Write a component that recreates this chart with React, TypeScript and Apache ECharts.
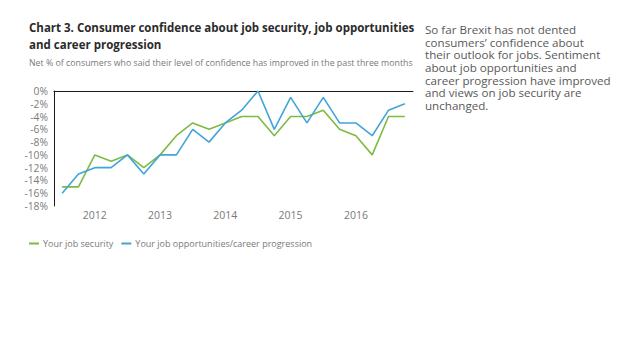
import React, { useEffect, useRef } from "react";
import * as echarts from "echarts";

const quarters = [
  "2011 Q3", "2011 Q4",
  "2012 Q1", "2012 Q2", "2012 Q3", "2012 Q4",
  "2013 Q1", "2013 Q2", "2013 Q3", "2013 Q4",
  "2014 Q1", "2014 Q2", "2014 Q3", "2014 Q4",
  "2015 Q1", "2015 Q2", "2015 Q3", "2015 Q4",
  "2016 Q1", "2016 Q2", "2016 Q3", "2016 Q4",
];

const jobSecurity = [-15, -15, -10, -11, -10, -12, -10, -7, -5, -6, -5, -4, -4, -7, -4, -4, -3, -6, -7, -10, -4, -4];
const jobOpportunities = [-16, -13, -12, -12, -10, -13, -10, -10, -6, -8, -5, -3, 0, -6, -1, -5, -1, -5, -5, -7, -3, -2];

const titleText = "Chart 3. Consumer confidence about job security, job opportunities\nand career progression";
const subtitleText = "Net % of consumers who said their level of confidence has improved in the past three months";
const sideLines = [
  "So far Brexit has not dented",
  "consumers\u2019 confidence about",
  "their outlook for jobs. Sentiment",
  "about job opportunities and",
  "career progression have improved",
  "and views on job security are",
  "unchanged.",
];

const FONT = "'Open Sans', 'Noto Sans', sans-serif";
const GREEN = "#7dbb42";
const BLUE = "#41a5d8";

export default function App() {
  const ref = useRef<HTMLDivElement>(null);
  useEffect(() => {
    if (!ref.current) return;
    const chart = echarts.init(ref.current, undefined, { renderer: "svg" });
    chart.setOption({
      animation: false,
      backgroundColor: "#ffffff",
      textStyle: { fontFamily: FONT },
      title: [
        {
          text: titleText,
          left: 24,
          top: 14,
          textStyle: { fontFamily: FONT, fontSize: 11.5, fontWeight: "bold", color: "#2b2b2b", lineHeight: 17 },
        },
        {
          text: subtitleText,
          left: 24,
          top: 53,
          textStyle: { fontFamily: FONT, fontSize: 8.8, fontWeight: "normal", color: "#7a7a7a" },
        },
      ],
      graphic: [
        {
          type: "text",
          x: 425,
          y: 23,
          style: {
            text: sideLines.join("\n"),
            fontFamily: FONT,
            fontSize: 11.6,
            lineHeight: 12.7,
            fill: "#595959",
            textVerticalAlign: "top",
          },
        },
      ],
      legend: {
        left: 24,
        top: 234,
        itemWidth: 10,
        itemHeight: 2,
        itemGap: 8,
        icon: "rect",
        textStyle: { fontFamily: FONT, fontSize: 9, color: "#7a7a7a", padding: [0, 0, 0, -1] },
        data: ["Your job security", "Your job opportunities/career progression"],
      },
      grid: { left: 54, top: 91, right: 225, bottom: 153 },
      xAxis: [
        {
          type: "category",
          data: quarters,
          boundaryGap: true,
          position: "bottom",
          axisLine: { show: false },
          axisTick: { show: false },
          axisLabel: {
            interval: 0,
            margin: 3,
            fontFamily: FONT,
            fontSize: 10.5,
            color: "#7a7a7a",
            formatter: (v: string) => (v.endsWith("Q1") ? v.slice(0, 4) : ""),
          },
        },
        {
          type: "category",
          data: quarters,
          position: "top",
          axisLine: { show: true, onZero: false, lineStyle: { color: "#1a1a1a", width: 1 } },
          axisTick: { show: false },
          axisLabel: { show: false },
        },
      ],
      yAxis: {
        type: "value",
        min: -18,
        max: 0,
        interval: 2,
        axisLine: { show: true, lineStyle: { color: "#1a1a1a", width: 1 } },
        axisTick: { show: false },
        splitLine: { show: false },
        axisLabel: {
          margin: 6,
          fontFamily: FONT,
          fontSize: 10.3,
          color: "#7a7a7a",
          formatter: (v: number) => `${v}%`,
        },
      },
      series: [
        {
          name: "Your job security",
          type: "line",
          data: jobSecurity,
          showSymbol: false,
          symbol: "none",
          lineStyle: { color: GREEN, width: 1.6 },
          itemStyle: { color: GREEN },
        },
        {
          name: "Your job opportunities/career progression",
          type: "line",
          data: jobOpportunities,
          showSymbol: false,
          symbol: "none",
          lineStyle: { color: BLUE, width: 1.6 },
          itemStyle: { color: BLUE },
        },
      ],
    });
    return () => chart.dispose();
  }, []);
  return (
    <div
      ref={ref}
      style={{ position: "absolute", left: 0, top: 0, width: 638, height: 359 }}
    />
  );
}
